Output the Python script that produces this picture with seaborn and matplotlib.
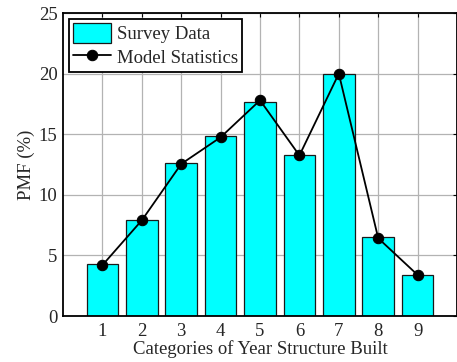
import matplotlib
matplotlib.use("Agg")
import matplotlib.pyplot as plt
import seaborn as sns
import pandas as pd

# Year-structure-built categories and their probability mass (%)
categories = [1, 2, 3, 4, 5, 6, 7, 8, 9]
survey_pmf = [4.3, 7.95, 12.6, 14.85, 17.65, 13.3, 20.0, 6.48, 3.4]
model_pmf = [4.2, 7.9, 12.55, 14.75, 17.8, 13.25, 20.0, 6.42, 3.39]
y_ticks = [0, 5, 10, 15, 20, 25]

sns.set_theme(style="white")
plt.rcParams["font.family"] = ["Liberation Serif", "DejaVu Serif"]

df = pd.DataFrame({"cat": categories, "survey": survey_pmf, "model": model_pmf})

FS = 13.5

fig = plt.figure(figsize=(4.57, 3.62), dpi=100)
ax = fig.add_axes([0.138, 0.127, 0.862, 0.837])

sns.barplot(data=df, x="cat", y="survey", native_scale=True, width=0.8,
            color="#00ffff", saturation=1, edgecolor="#1a1a1a", linewidth=0.9,
            ax=ax, label="Survey Data", zorder=2)
sns.lineplot(data=df, x="cat", y="model", color="black", linewidth=1.3,
             marker="o", markersize=7.5, markeredgecolor="black",
             ax=ax, label="Model Statistics", zorder=3)

ax.set_xlim(0, 10)
ax.set_ylim(0, 25)
ax.set_xticks(categories)
ax.set_yticks(y_ticks)
ax.grid(True, color="#b3b3b3", linewidth=0.9)
ax.set_axisbelow(True)

for side in ["left", "right", "top", "bottom"]:
    ax.spines[side].set_visible(True)
    ax.spines[side].set_color("black")
    ax.spines[side].set_linewidth(1.3)

ax.tick_params(axis="both", direction="in", length=3, width=0.8, color="black",
               top=True, right=True, labelsize=FS)
ax.tick_params(axis="x", pad=5)
ax.tick_params(axis="y", pad=4)

ax.set_xlabel("Categories of Year Structure Built", fontsize=FS, labelpad=0)
ax.set_ylabel("PMF (%)", fontsize=FS, labelpad=3)

handles, labels = ax.get_legend_handles_labels()
order = [labels.index("Survey Data"), labels.index("Model Statistics")]
leg = ax.legend([handles[i] for i in order], [labels[i] for i in order],
                loc="upper left", fontsize=FS, frameon=True, fancybox=False,
                handlelength=2.0, handleheight=1.2, borderpad=0.25,
                labelspacing=0.2, handletextpad=0.3, borderaxespad=0.3,
                bbox_to_anchor=(0.0, 1.0))
leg.get_frame().set_edgecolor("black")
leg.get_frame().set_linewidth(1.3)
leg.get_frame().set_alpha(1)

fig.savefig("out.png", dpi=100)
